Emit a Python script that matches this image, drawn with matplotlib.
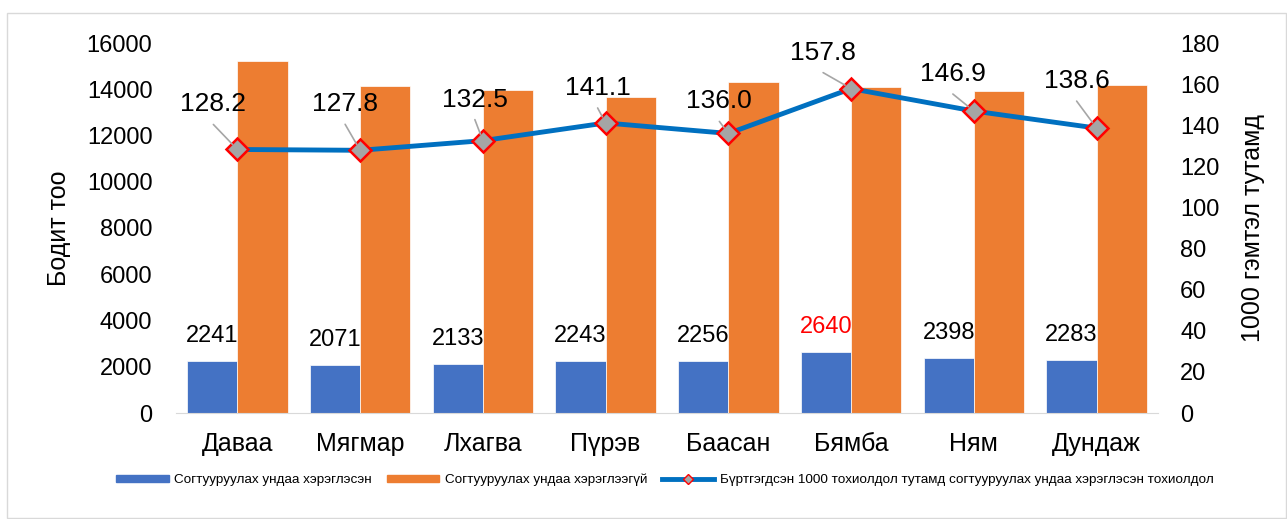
import numpy as np
import matplotlib.pyplot as plt
from matplotlib.patches import Rectangle
from matplotlib.lines import Line2D

plt.rcParams['font.family'] = ['Liberation Sans', 'DejaVu Sans']

# Өгөгдөл
days = ['Даваа', 'Мягмар', 'Лхагва', 'Пүрэв', 'Баасан', 'Бямба', 'Ням', 'Дундаж']
used = [2241, 2071, 2133, 2243, 2256, 2640, 2398, 2283]
not_used = [15239, 14134, 13965, 13654, 14332, 14090, 13926, 14189]
rate = [128.2, 127.8, 132.5, 141.1, 136.0, 157.8, 146.9, 138.6]

# Шошгоны байрлал (пиксел)
label_offsets = [(-24, 45), (-15, 46), (-8, 41), (-8, 35), (-9, 32), (-28, 36), (-21, 37), (-20, 47)]

blue = '#4472C4'
orange = '#ED7D31'
line_c = '#0070C0'

fig = plt.figure(figsize=(12.87, 5.19), dpi=100)
ax = fig.add_axes([176/1287, 1 - 413/519, (1158-176)/1287, (413-43)/519])
ax2 = ax.twinx()

# Хүрээ
fig.patches.append(Rectangle((7/1287, 1/519), 1279/1287, 505/519, transform=fig.transFigure,
                             fill=False, edgecolor='#D9D9D9', lw=1))

x = np.arange(len(days))
w = 0.41
b1 = ax.bar(x - w/2, used, w, color=blue, edgecolor='white', lw=0.5)
b2 = ax.bar(x + w/2, not_used, w, color=orange, edgecolor='white', lw=0.5)

for i, v in enumerate(used):
    ax.annotate(str(v), (x[i] - w/2, v), xytext=(0, 25), textcoords='offset pixels',
                ha='center', va='center', fontsize=17,
                color='red' if days[i] == 'Бямба' else 'black')

ax.set_xlim(-0.5, len(days) - 0.5)
ax.set_ylim(0, 16000)
ax.set_yticks(np.arange(0, 16001, 2000))
ax.set_xticks(x)
ax.set_xticklabels(days, fontsize=18)
ax.tick_params(axis='both', length=0, labelsize=17)
ax.tick_params(axis='y', pad=17)
ax.tick_params(axis='x', pad=14, labelsize=18)
for s in ['top', 'right', 'left']:
    ax.spines[s].set_visible(False)
ax.spines['bottom'].set_color('#D9D9D9')
ax.set_ylabel('Бодит тоо', fontsize=18, labelpad=11)

ax2.plot(x, rate, color=line_c, lw=3.5, marker='D', markersize=11,
         markerfacecolor='#A5A5A5', markeredgecolor='red', markeredgewidth=1.8, zorder=3)
for i, v in enumerate(rate):
    dx, dy = label_offsets[i]
    # холбох шугам
    ax2.annotate('', (x[i], v), xytext=(dx, dy - 20), textcoords='offset pixels',
                 arrowprops=dict(arrowstyle='-', color='#A6A6A6', lw=1.2,
                                 shrinkA=0, shrinkB=5))
    ax2.annotate(f'{v:.1f}', (x[i], v), xytext=(dx, dy), textcoords='offset pixels',
                 ha='center', va='center', fontsize=19)
ax2.set_ylim(0, 180)
ax2.set_yticks(np.arange(0, 181, 20))
ax2.tick_params(axis='y', length=0, labelsize=17, pad=16)
for s in ['top', 'right', 'left', 'bottom']:
    ax2.spines[s].set_visible(False)
ax2.set_ylabel('1000 гэмтэл тутамд', fontsize=18, labelpad=15)

handles = [Rectangle((0, 0), 1, 1, color=blue), Rectangle((0, 0), 1, 1, color=orange),
           Line2D([], [], color=line_c, lw=3.5, marker='D', markersize=5,
                  markerfacecolor='#A5A5A5', markeredgecolor='red')]
labels = ['Согтууруулах ундаа хэрэглэсэн', 'Согтууруулах ундаа хэрэглээгүй',
          'Бүртгэгдсэн 1000 тохиолдол тутамд согтууруулах ундаа хэрэглэсэн тохиолдол']
fig.legend(handles, labels, loc='center', bbox_to_anchor=(665/1287, 1 - 480/519), ncol=3,
           frameon=False, fontsize=9.7, handlelength=3.9, handleheight=0.53, columnspacing=1.1,
           handletextpad=0.4)

fig.savefig('out.png', dpi=100)
